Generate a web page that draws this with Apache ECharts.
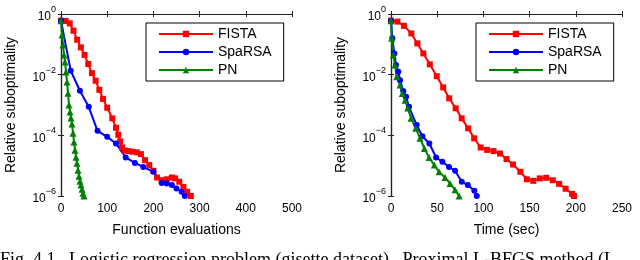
<!DOCTYPE html>
<html>
<head>
<meta charset="utf-8">
<script src="https://cdn.jsdelivr.net/npm/echarts@6/dist/echarts.min.js"></script>
<style>
html, body { margin: 0; padding: 0; background: #fff; }
#chart { width: 640px; height: 260px; }
</style>
</head>
<body>
<div id="chart"></div>
<script>
// y values are log10 of relative suboptimality
const seriesNames = ["FISTA", "SpaRSA", "PN"];
const colorArray = ["#ff0000", "#0000ff", "#008000"];
const symbols = ["rect", "circle", "triangle"];

const fevTicks = [0, 100, 200, 300, 400, 500];
const timeTicks = [0, 50, 100, 150, 200, 250];
const yTickExp = [-6, -4, -2, 0];

// left: function evaluations
const fistaFevX = [0, 10, 19, 27, 35, 43, 51, 59, 67, 75, 83, 91, 100, 111, 119, 124, 128, 132, 138, 146, 155, 164, 173, 182, 191, 200, 208, 218, 229, 240, 247, 256, 265, 273, 281];
const fistaFevY = [-0.22, -0.23, -0.31, -0.55, -0.85, -1.1, -1.35, -1.65, -1.95, -2.2, -2.5, -2.8, -3.09, -3.44, -3.75, -3.98, -4.2, -4.4, -4.5, -4.52, -4.54, -4.56, -4.62, -4.82, -4.98, -5.17, -5.39, -5.48, -5.45, -5.39, -5.42, -5.53, -5.7, -5.86, -6.0];
const sparsaFevX = [0, 21, 41, 60, 79, 100, 119, 140, 160, 178, 200, 218, 229, 240, 250, 261, 268];
const sparsaFevY = [-0.22, -1.87, -2.53, -3.06, -3.85, -4.05, -4.27, -4.73, -4.91, -5.04, -5.2, -5.57, -5.59, -5.64, -5.75, -5.86, -6.0];
const pnFevX = [0, 2.2, 4.3, 6.5, 8.7, 10.8, 13, 15.2, 17.3, 19.5, 21.6, 23.8, 26, 28.1, 30.3, 32.5, 34.6, 36.8, 39, 41.1, 43.3, 45.5, 47.6, 49.8];
const pnFevY = [-0.22, -0.69, -1.02, -1.35, -1.58, -1.91, -2.24, -2.61, -3.0, -3.23, -3.43, -3.63, -3.93, -4.22, -4.49, -4.72, -4.92, -5.15, -5.35, -5.51, -5.64, -5.78, -5.91, -6.0];

// right: time (sec)
const fistaTimeX = [0, 7, 14, 22, 28.5, 35, 42, 49.5, 56.5, 63, 70, 76.5, 83.5, 90, 97, 104, 111, 118, 125, 132, 140, 147, 154, 161, 168, 175, 182, 189, 196, 198];
const fistaTimeY = [-0.22, -0.25, -0.39, -0.64, -0.97, -1.3, -1.66, -2.05, -2.42, -2.78, -3.11, -3.44, -3.77, -4.1, -4.4, -4.48, -4.52, -4.6, -4.78, -4.96, -5.2, -5.45, -5.5, -5.42, -5.4, -5.48, -5.6, -5.76, -5.93, -6.0];
const sparsaTimeX = [0, 1.4, 3.6, 5.4, 7.9, 9.8, 13.3, 16.3, 19.5, 27.8, 33.9, 41.5, 48.8, 55.6, 62.8, 69.3, 76.6, 83.1, 90.2, 92.8];
const sparsaTimeY = [-0.22, -0.8, -1.3, -1.68, -1.9, -2.18, -2.54, -2.73, -3.06, -3.66, -4.03, -4.27, -4.73, -4.87, -5.04, -5.17, -5.53, -5.64, -5.83, -6.0];
const pnTimeX = [0, 0.8, 2.5, 4.3, 6.2, 9.8, 12.2, 15.2, 18.1, 21.7, 26.8, 31.4, 36.1, 41.2, 46.9, 52, 58.5, 63.9, 69.3, 73.7];
const pnTimeY = [-0.22, -0.8, -1.35, -1.68, -2.07, -2.34, -2.62, -2.84, -3.1, -3.44, -3.77, -4.1, -4.43, -4.73, -4.98, -5.2, -5.39, -5.59, -5.79, -6.0];

const font = "Liberation Sans, Arial, Helvetica, sans-serif";
const axisColor = "#222";

function zip(xs, ys) {
  return xs.map((x, i) => [x, ys[i]]);
}

function xAxis(gridIndex, ticks, name, top) {
  return {
    type: "value",
    gridIndex: gridIndex,
    position: top ? "top" : "bottom",
    min: ticks[0],
    max: ticks[ticks.length - 1],
    interval: ticks[1] - ticks[0],
    name: top ? "" : name,
    nameLocation: "middle",
    nameGap: 27,
    nameTextStyle: { fontSize: 14, color: "#000", fontFamily: font },
    axisLine: { show: true, lineStyle: { color: axisColor, width: 1.2 } },
    axisTick: { show: true, inside: true, length: 3, lineStyle: { color: axisColor } },
    axisLabel: { show: !top, color: "#000", fontSize: 12, fontFamily: font, margin: 7 },
    splitLine: { show: false },
  };
}

function yAxis(gridIndex, right) {
  return {
    type: "value",
    gridIndex: gridIndex,
    position: right ? "right" : "left",
    min: yTickExp[0],
    max: yTickExp[yTickExp.length - 1],
    interval: yTickExp[1] - yTickExp[0],
    name: right ? "" : "Relative suboptimality",
    nameLocation: "middle",
    nameGap: 43,
    nameTextStyle: { fontSize: 14, color: "#000", fontFamily: font },
    axisLine: { show: true, lineStyle: { color: axisColor, width: 1.2 } },
    axisTick: { show: true, inside: true, length: 3, lineStyle: { color: axisColor } },
    axisLabel: {
      show: !right,
      margin: 5,
      formatter: (v) => "{b|10}{s|" + (v === 0 ? "0" : "\u2212" + -v) + "}",
      rich: {
        b: { fontSize: 12, color: "#000", fontFamily: font, padding: [6, 0, 0, 0], verticalAlign: "bottom" },
        s: { fontSize: 9, color: "#000", fontFamily: font, verticalAlign: "top" },
      },
    },
    splitLine: { show: false },
  };
}

function lineSeries(k, axisIdx, data) {
  return {
    name: seriesNames[k],
    type: "line",
    xAxisIndex: axisIdx,
    yAxisIndex: axisIdx,
    data: data,
    symbol: symbols[k],
    symbolSize: k === 2 ? 7 : 6,
    showAllSymbol: true,
    lineStyle: { color: colorArray[k], width: 2 },
    itemStyle: { color: colorArray[k] },
    animation: false,
  };
}

function legend(left) {
  return {
    left: left,
    top: 23,
    orient: "vertical",
    data: seriesNames,
    itemWidth: 54,
    itemHeight: 8,
    itemGap: 4,
    padding: [4, 12, 4, 12],
    borderColor: "#000",
    borderWidth: 1,
    selectedMode: false,
    textStyle: { fontSize: 14, color: "#000", fontFamily: font },
  };
}

const chart = echarts.init(document.getElementById("chart"));
chart.setOption({
  animation: false,
  backgroundColor: "#fff",
  grid: [
    { left: 61, top: 14, width: 231, height: 182 },
    { left: 391, top: 14, width: 231, height: 182 },
  ],
  xAxis: [
    xAxis(0, fevTicks, "Function evaluations", false),
    xAxis(1, timeTicks, "Time (sec)", false),
    xAxis(0, fevTicks, "", true),
    xAxis(1, timeTicks, "", true),
  ],
  yAxis: [yAxis(0, false), yAxis(1, false), yAxis(0, true), yAxis(1, true)],
  legend: [legend(146), legend(476)],
  series: [
    lineSeries(0, 0, zip(fistaFevX, fistaFevY)),
    lineSeries(1, 0, zip(sparsaFevX, sparsaFevY)),
    lineSeries(2, 0, zip(pnFevX, pnFevY)),
    lineSeries(0, 1, zip(fistaTimeX, fistaTimeY)),
    lineSeries(1, 1, zip(sparsaTimeX, sparsaTimeY)),
    lineSeries(2, 1, zip(pnTimeX, pnTimeY)),
  ],
  graphic: [
    {
      type: "text",
      left: 0,
      top: 251,
      style: {
        text: "Fig. 4.1.  Logistic regression problem (gisette dataset).  Proximal L-BFGS method (L",
        font: "18px Liberation Serif, Times New Roman, serif",
        fill: "#000",
      },
    },
  ],
});
</script>
</body>
</html>
